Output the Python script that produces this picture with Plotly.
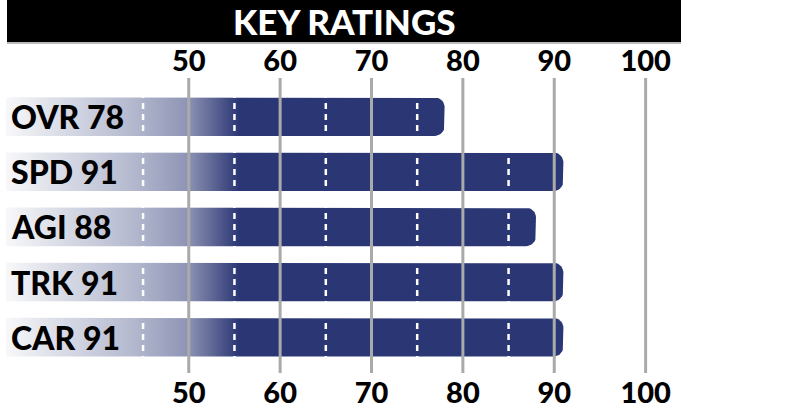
import plotly.graph_objects as go
import numpy as np

# ---- data ----
categories = ["OVR", "SPD", "AGI", "TRK", "CAR"]
ratings = [78, 91, 88, 91, 91]
tick_values = [50, 60, 70, 80, 90, 100]
dash_values = [45, 55, 65, 75, 85]
title_text = "KEY RATINGS"

# ---- style / geometry ----
W, H = 785, 415
X_RANGE = [30, 110]
ML, MR = 6, 48
MT, MB = 78, 40
Y_RANGE = [4.65, -0.7]
NAVY = "#2b3775"
FONT = "Lato"
WEIGHT = 900
BAR_H = 0.70
bar_base = X_RANGE[0]

plot_w = W - ML - MR
plot_h = H - MT - MB
px_per_x = plot_w / (X_RANGE[1] - X_RANGE[0])
px_per_y = plot_h / (Y_RANGE[0] - Y_RANGE[1])
rx = 10 / px_per_x
ry = 10 / px_per_y

fig = go.Figure()

for i, (cat, val) in enumerate(zip(categories, ratings)):
    top = i - BAR_H / 2
    bot = i + BAR_H / 2
    t1 = np.linspace(-np.pi / 2, 0, 10)
    t2 = np.linspace(0, np.pi / 2, 10)
    xs = [bar_base, val - rx]
    ys = [top, top]
    xs += list(val - rx + rx * np.cos(t1))
    ys += list(top + ry + ry * np.sin(t1))
    xs += list(val - rx + rx * np.cos(t2))
    ys += list(bot - ry + ry * np.sin(t2))
    xs += [val - rx, bar_base, bar_base]
    ys += [bot, bot, top]
    fig.add_trace(go.Scatter(
        x=xs, y=ys, mode="lines", fill="toself",
        line=dict(width=0, color=NAVY),
        fillgradient=dict(
            type="horizontal", start=30, stop=55.5,
            colorscale=[[0, "#f8f8fa"], [0.15, "#e4e6ed"], [0.55, "#b3b8ce"],
                        [0.78, "#8e94b4"], [0.93, "#4b5488"], [1, NAVY]],
        ),
        hoverinfo="skip", showlegend=False,
    ))

shapes = []
# white dashed separators
for dv in dash_values:
    shapes.append(dict(type="line", xref="x", yref="paper", x0=dv, x1=dv,
                       y0=0, y1=1, line=dict(color="white", width=2.5, dash="6px,5px"),
                       layer="above"))
# grey gridlines
for tv in tick_values:
    shapes.append(dict(type="line", xref="x", yref="paper", x0=tv, x1=tv,
                       y0=0, y1=1, line=dict(color="#aaaaab", width=3),
                       layer="above"))
# title bar
def py(p):  # pixel y -> paper y
    return (H - MB - p) / plot_h
def px(p):  # pixel x -> paper x
    return (p - ML) / plot_w
shapes.append(dict(type="rect", xref="paper", yref="paper",
                   x0=px(7), x1=px(681), y0=py(42), y1=py(-2),
                   fillcolor="black", line=dict(width=0), layer="above"))
shapes.append(dict(type="line", xref="paper", yref="paper",
                   x0=px(7), x1=px(681), y0=py(43), y1=py(43),
                   line=dict(color="#bbbbbb", width=1.5), layer="above"))

annotations = [dict(text=title_text, xref="paper", yref="paper",
                    x=px(344), y=py(21), xanchor="center", yanchor="middle",
                    showarrow=False,
                    font=dict(family=FONT, size=35, color="white", weight=WEIGHT))]
for i, (cat, val) in enumerate(zip(categories, ratings)):
    annotations.append(dict(text=f"{cat} {val}", xref="paper", yref="y",
                            x=px(9), y=i, xanchor="left", yanchor="middle",
                            showarrow=False,
                            font=dict(family=FONT, size=32, color="black", weight=WEIGHT)))

tickfont = dict(family=FONT, size=29, color="black", weight=WEIGHT)
fig.update_layout(
    width=W, height=H, margin=dict(l=ML, r=MR, t=MT, b=MB),
    plot_bgcolor="white", paper_bgcolor="white",
    xaxis=dict(range=X_RANGE, tickvals=tick_values, showgrid=False, zeroline=False,
               showline=False, ticks="", tickfont=tickfont, side="bottom"),
    xaxis2=dict(range=X_RANGE, tickvals=tick_values, showgrid=False, zeroline=False,
                showline=False, ticks="", tickfont=tickfont, side="top",
                overlaying="x", matches="x"),
    yaxis=dict(range=Y_RANGE, showgrid=False, zeroline=False, showticklabels=False,
               showline=False),
    shapes=shapes, annotations=annotations,
)
fig.add_trace(go.Scatter(x=[None], y=[None], xaxis="x2", showlegend=False,
                         hoverinfo="skip"))
fig.write_html("out.html", config={"displayModeBar": False},
               post_script="document.body.style.margin='0';")
